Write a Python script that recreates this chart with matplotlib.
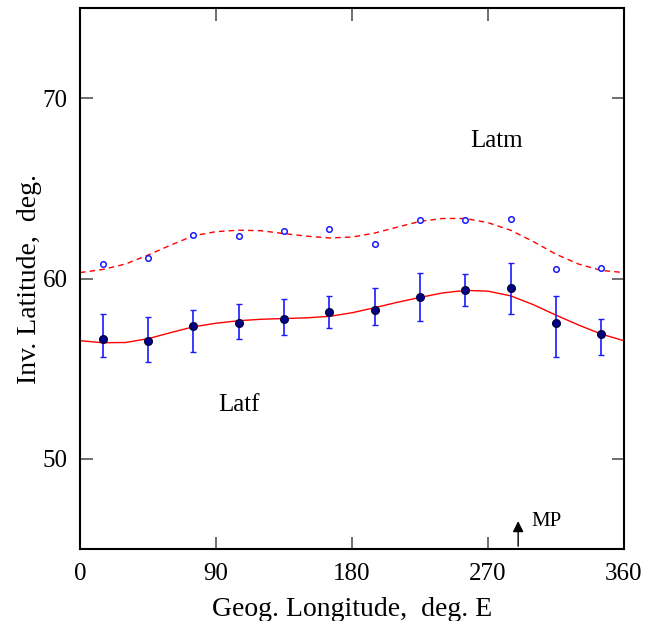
import matplotlib.pyplot as plt

# station longitudes, deg E
lon = [15, 45, 75, 105, 135, 165, 195, 225, 255, 285, 315, 345]

# Latf (filled) with error bar ends
latf = [56.62, 56.53, 57.36, 57.55, 57.75, 58.15, 58.25, 58.95, 59.35, 59.45, 57.55, 56.95]
latf_hi = [58.02, 57.86, 58.24, 58.61, 58.85, 59.02, 59.45, 60.33, 60.24, 60.85, 59.04, 57.73]
latf_lo = [55.62, 55.35, 55.92, 56.64, 56.84, 57.25, 57.43, 57.64, 58.45, 58.02, 55.62, 55.75]

# Latm (open)
latm = [60.83, 61.15, 62.44, 62.34, 62.64, 62.73, 61.94, 63.25, 63.23, 63.32, 60.54, 60.61]

# fitted curves, every 15 deg
curve_lon = [0, 15, 30, 45, 60, 75, 90, 105, 120, 135, 150, 165, 180,
             195, 210, 225, 240, 255, 270, 285, 300, 315, 330, 345, 360]
latf_fit = [56.55, 56.44, 56.45, 56.66, 57.00, 57.32, 57.52, 57.66, 57.74, 57.78, 57.82, 57.90, 58.10,
            58.38, 58.68, 58.95, 59.20, 59.34, 59.30, 59.04, 58.55, 57.97, 57.42, 56.92, 56.55]
latm_fit = [60.33, 60.50, 60.80, 61.30, 61.85, 62.37, 62.60, 62.68, 62.65, 62.49, 62.35, 62.25, 62.30,
            62.52, 62.85, 63.17, 63.33, 63.33, 63.10, 62.68, 62.05, 61.35, 60.80, 60.45, 60.33]

mp_lon = 290


def main():
    plt.rcParams['font.family'] = ['Liberation Serif', 'DejaVu Serif']

    fig = plt.figure(figsize=(6.54, 6.21), dpi=100)
    ax = fig.add_axes([0.1223, 0.116, 0.8317, 0.871])

    ax.plot(curve_lon, latf_fit, color='red', lw=1.0, zorder=2)
    ax.plot(curve_lon, latm_fit, color='red', lw=1.0, ls=(0, (4, 3)), zorder=2)

    yerr = [[f - lo for f, lo in zip(latf, latf_lo)], [hi - f for f, hi in zip(latf, latf_hi)]]
    ax.errorbar(lon, latf, yerr=yerr, fmt='o', color='#0000ee', ecolor='#1a1aff', elinewidth=1.2,
                capsize=2.5, capthick=1.0, ms=5.5, mfc='#00008b', mec='#000040', zorder=3)
    ax.plot(lon, latm, 'o', ms=4, mfc='white', mec='#1a1aff', mew=1.1, zorder=3)

    ax.text(276, 67.6, 'Latm', fontsize=18, ha='center', va='center')
    ax.text(105, 53.0, 'Latf', fontsize=18, ha='center', va='center')

    ax.annotate('', xy=(mp_lon, 46.7), xytext=(mp_lon, 45.0),
                arrowprops=dict(arrowstyle='-|>', color='black', lw=1.0, mutation_scale=16))
    ax.text(mp_lon + 9, 46.55, 'MP', fontsize=15, ha='left', va='center')

    ax.set_xlim(0, 360)
    ax.set_ylim(45, 75)
    ax.set_xticks([0, 90, 180, 270, 360])
    ax.set_yticks([50, 60, 70])
    ax.tick_params(direction='in', length=9, width=1.2, color='#555555', labelsize=18,
                   top=True, right=True)
    ax.tick_params(axis='x', pad=10)
    ax.tick_params(axis='y', pad=9)
    for s in ax.spines.values():
        s.set_linewidth(1.5)

    ax.set_xlabel('Geog. Longitude,  deg. E', fontsize=20, labelpad=9)
    ax.set_ylabel('Inv. Latitude,  deg.', fontsize=20, labelpad=0)

    fig.savefig('out.png', dpi=100)


if __name__ == '__main__':
    main()
